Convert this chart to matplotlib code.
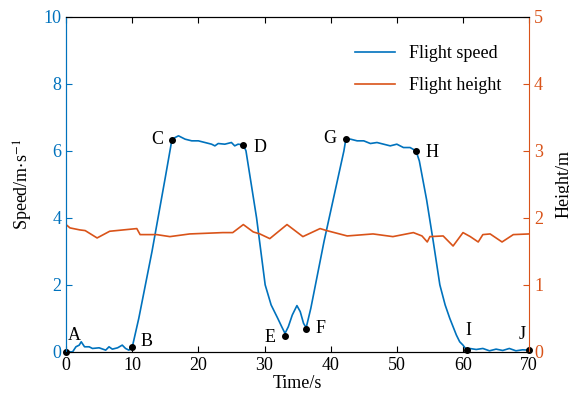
import numpy as np
import matplotlib.pyplot as plt

plt.rcParams['font.family'] = ['Liberation Serif', 'DejaVu Serif']
plt.rcParams['mathtext.fontset'] = 'stix'

# flight speed (m/s)
t_speed = [0, 1.0, 1.5, 2.0, 2.3, 2.8, 3.5, 4.0, 5.0, 6.0, 6.5, 7.0, 7.8, 8.5, 9.0, 9.5, 10.0,
           11.0, 12.0, 13.0, 14.0, 15.0, 15.8, 16.0, 16.5, 17.0, 18.0, 19.0, 20.0, 21.0, 22.0,
           22.5, 23.0, 24.0, 25.0, 25.5, 26.0, 26.8, 27.2, 28.0, 28.8, 30.1, 31.0, 32.0, 32.6,
           33.1, 33.6, 34.2, 34.9, 35.4, 35.9, 36.3, 37.0, 38.0, 39.0, 40.0, 41.0, 42.0, 42.3,
           43.0, 44.0, 45.0, 46.0, 47.0, 48.0, 49.0, 50.0, 51.0, 52.0, 52.9, 53.4, 54.5, 55.5,
           56.5, 57.3, 58.0, 59.0, 59.5, 60.0, 60.6, 61.0, 62.0, 63.0, 64.0, 65.0, 66.0, 67.0,
           68.0, 69.0, 70.0]
speed = [0, 0.0, 0.15, 0.2, 0.3, 0.15, 0.15, 0.1, 0.12, 0.05, 0.15, 0.08, 0.12, 0.2, 0.1, 0.05, 0.13,
         1.0, 2.0, 3.0, 4.1, 5.2, 6.1, 6.33, 6.4, 6.45, 6.35, 6.3, 6.3, 6.25, 6.2,
         6.15, 6.22, 6.2, 6.25, 6.15, 6.2, 6.18, 6.0, 5.0, 4.0, 2.0, 1.4, 1.0, 0.75,
         0.55, 0.75, 1.1, 1.38, 1.2, 0.85, 0.72, 1.3, 2.3, 3.3, 4.2, 5.1, 6.0, 6.36,
         6.35, 6.3, 6.3, 6.22, 6.25, 6.2, 6.15, 6.2, 6.1, 6.1, 6.0, 5.7, 4.54, 3.3,
         2.0, 1.4, 1.0, 0.5, 0.3, 0.2, 0.04, 0.1, 0.07, 0.1, 0.03, 0.08, 0.04, 0.1,
         0.03, 0.06, 0.05]

# flight height (m)
t_height = [0, 0.6, 2.1, 2.9, 4.7, 6.6, 10.7, 11.2, 13.7, 15.7, 18.7, 23.7, 25.2, 26.8, 28.3,
            29.3, 30.8, 33.4, 35.8, 38.4, 39.4, 42.5, 46.4, 49.4, 52.5, 53.8, 54.6, 55.0, 57.0,
            58.5, 60.0, 61.1, 62.3, 63.0, 64.1, 65.9, 67.6, 70.0]
height = [1.90, 1.85, 1.82, 1.81, 1.70, 1.80, 1.84, 1.75, 1.75, 1.72, 1.76, 1.78, 1.78, 1.90, 1.79,
          1.76, 1.69, 1.90, 1.72, 1.84, 1.81, 1.73, 1.76, 1.72, 1.78, 1.73, 1.64, 1.72, 1.73,
          1.58, 1.78, 1.72, 1.64, 1.75, 1.76, 1.64, 1.75, 1.76]

# key points A..J
labels = ['A', 'B', 'C', 'D', 'E', 'F', 'G', 'H', 'I', 'J']
key_t = [0, 10.0, 16.0, 26.8, 33.1, 36.3, 42.3, 52.9, 60.6, 70.0]
key_v = [0, 0.13, 6.33, 6.18, 0.48, 0.69, 6.36, 6.0, 0.04, 0.05]
offs = [(8, 16), (14, 6), (-15, 0), (17, -3), (-15, -2), (14, 0), (-16, 0), (16, -2), (1, 20), (-7, 16)]

blue = '#0072BD'
orange = '#D95319'
fs = 13

fig = plt.figure(figsize=(5.69, 4.03), dpi=100)
ax = fig.add_axes([0.116, 0.127, 0.814, 0.831])
ax2 = ax.twinx()

l1, = ax.plot(t_speed, speed, color=blue, lw=1.2, label='Flight speed')
l2, = ax2.plot(t_height, height, color=orange, lw=1.2, label='Flight height')
ax.plot(key_t, key_v, 'o', color='k', ms=4, clip_on=False, zorder=5)
for lab, x, y, o in zip(labels, key_t, key_v, offs):
    ax.annotate(lab, (x, y), xytext=o, textcoords='offset pixels', ha='center', va='center', fontsize=fs)

ax.set_xlim(0, 70)
ax.set_ylim(0, 10)
ax2.set_ylim(0, 5)
ax.set_xticks(range(0, 71, 10))
ax.set_yticks(range(0, 11, 2))
ax2.set_yticks(range(0, 6))

ax.set_xlabel('Time/s', fontsize=fs, labelpad=1)
ax.set_ylabel('Speed/m$\\cdot$s$^{-1}$', fontsize=fs, labelpad=6)
ax2.set_ylabel('Height/m', fontsize=fs, labelpad=9)

ax.tick_params(axis='x', direction='in', top=True, labelsize=fs, length=4)
ax.tick_params(axis='y', direction='in', colors=blue, labelsize=fs, length=4)
ax2.tick_params(axis='y', direction='in', colors=orange, labelsize=fs, length=4)
ax.yaxis.label.set_color('k')
ax2.spines['left'].set_color(blue)
ax2.spines['right'].set_color(orange)
ax.spines['left'].set_color(blue)
ax.spines['right'].set_visible(False)

ax.legend(handles=[l1, l2], loc='upper right', bbox_to_anchor=(0.975, 0.965), frameon=False,
          fontsize=fs, handlelength=2.2, labelspacing=0.85)

plt.savefig('out.png', dpi=100)
